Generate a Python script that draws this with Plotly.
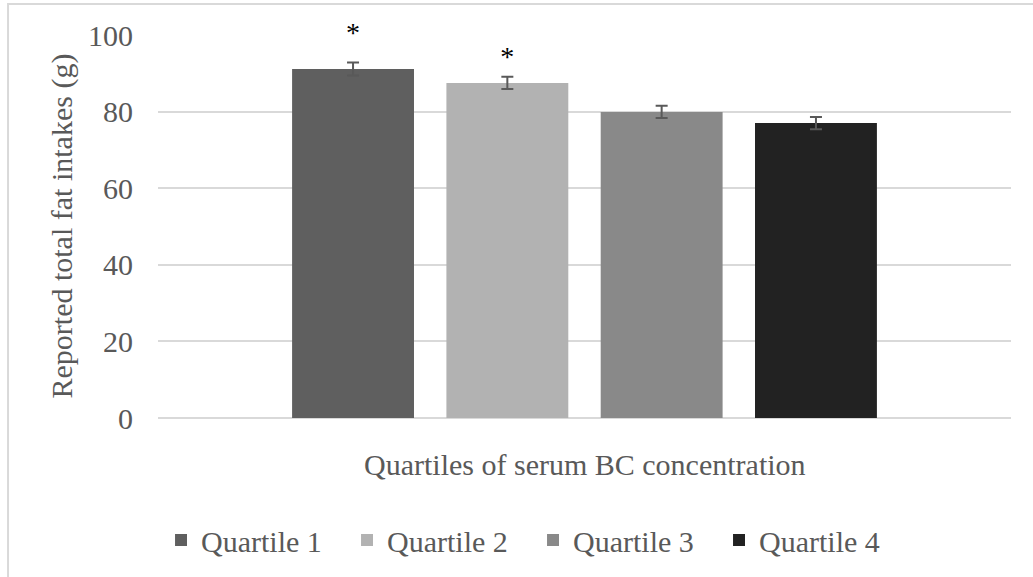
import plotly.graph_objects as go

quartiles = ["Quartile 1", "Quartile 2", "Quartile 3", "Quartile 4"]
fat_intake = [91.1, 87.5, 79.9, 77.0]
sem = [1.7, 1.6, 1.6, 1.6]
colors = ["#5f5f5f", "#b2b2b2", "#898989", "#222222"]
star_labels = ["*", "*", "", ""]
star_y = [100.0, 93.8, None, None]
y_ticks = [0, 20, 40, 60, 80, 100]

FONT = "Liberation Serif"
TXT = "#595959"

fig = go.Figure()
for q, v, e, c in zip(quartiles, fat_intake, sem, colors):
    fig.add_trace(go.Bar(
        x=[q], y=[v], name=q, marker=dict(color=c, line=dict(width=0)),
        error_y=dict(type="data", array=[e], visible=True, color="#595959",
                     thickness=2, width=6),
    ))

fig.add_trace(go.Scatter(
    x=quartiles, y=star_y, text=star_labels, mode="text", cliponaxis=False,
    showlegend=False, hoverinfo="skip",
    textfont=dict(family=FONT, size=28, color="#000000"), textposition="middle center",
))

fig.add_annotation(text="Reported total fat intakes (g)", xref="paper", yref="paper",
                   x=-0.1137, y=0.5, textangle=-90, showarrow=False,
                   xanchor="center", yanchor="middle",
                   font=dict(family=FONT, size=30, color=TXT))
fig.add_annotation(text="Quartiles of serum BC concentration", xref="paper", yref="paper",
                   x=0.5, y=-0.1227, showarrow=False,
                   xanchor="center", yanchor="middle",
                   font=dict(family=FONT, size=30, color=TXT))

fig.add_shape(type="rect", xref="paper", yref="paper",
              x0=-0.1758, x1=1.2, y0=-0.6, y1=1.081,
              line=dict(color="#d9d9d9", width=2), fillcolor="rgba(0,0,0,0)", layer="below")

fig.update_layout(
    width=1033, height=577,
    margin=dict(l=158, r=22, t=35, b=159),
    paper_bgcolor="white", plot_bgcolor="white",
    barmode="relative", bargap=0.21,
    font=dict(family=FONT, size=30, color=TXT),
    showlegend=True,
    legend=dict(orientation="h", xref="container", yref="container",
                x=0.516, y=1 - 540 / 577, xanchor="center", yanchor="middle",
                font=dict(family=FONT, size=30, color=TXT),
                entrywidth=141, entrywidthmode="pixels",
                itemwidth=30, bgcolor="rgba(0,0,0,0)"),
    xaxis=dict(range=[-1.264, 4.264], showticklabels=False, showgrid=False,
               showline=False, zeroline=False, ticks="", fixedrange=True),
    yaxis=dict(range=[0, 100], tickvals=y_ticks, showgrid=True, gridcolor="#d9d9d9",
               gridwidth=1.5, zeroline=True, zerolinecolor="#d9d9d9", zerolinewidth=1.5,
               showline=False, ticks="", ticklabelstandoff=24,
               tickfont=dict(family=FONT, size=30, color=TXT)),
)

fig.write_html("out.html")
